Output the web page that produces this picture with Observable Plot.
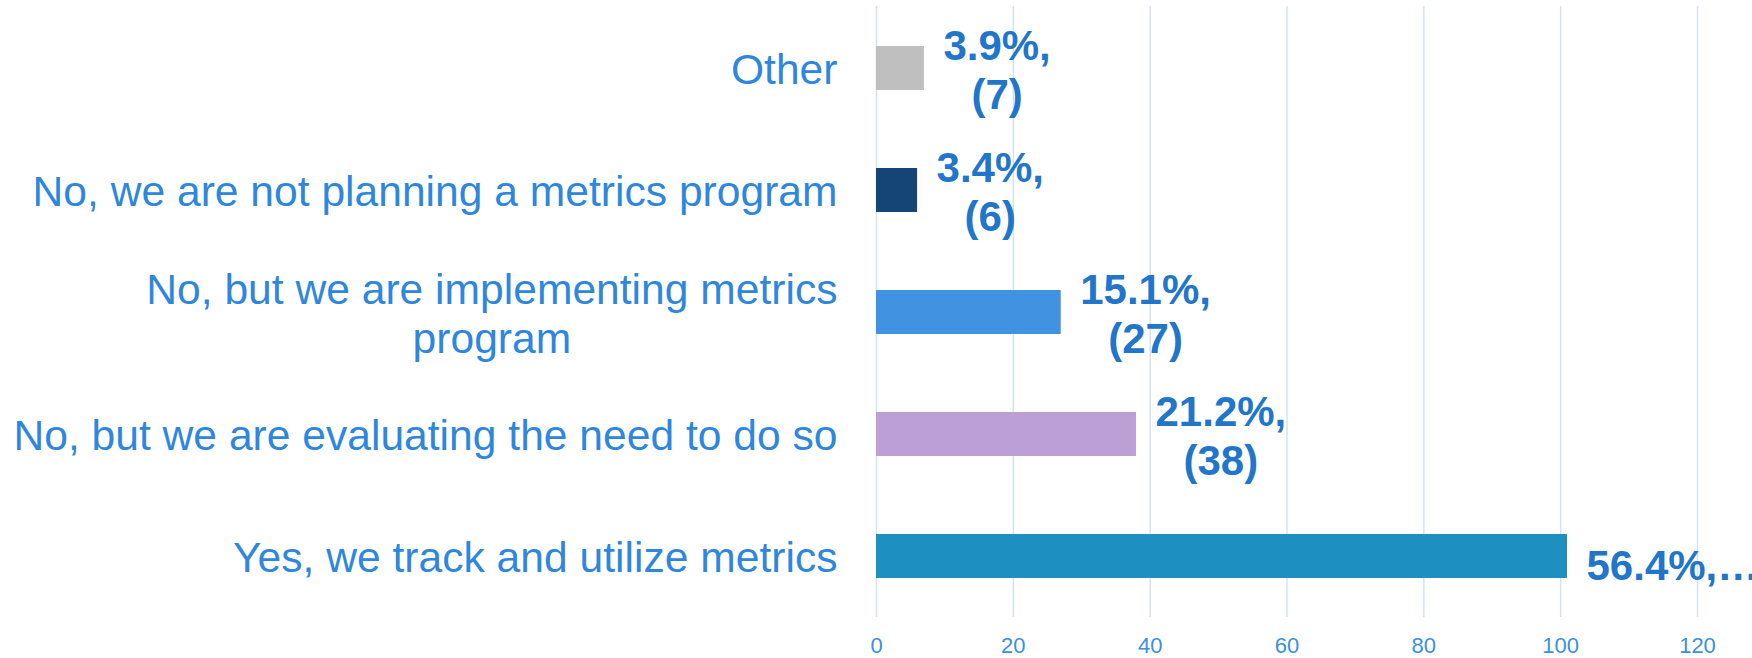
<!DOCTYPE html>
<html><head><meta charset="utf-8">
<script src="https://cdn.jsdelivr.net/npm/d3@7"></script>
<script src="https://cdn.jsdelivr.net/npm/@observablehq/plot@0.6"></script>
<style>body{margin:0;background:#fff;}</style>
</head><body><div id="chart"></div>
<script>
const categories = [
  "Other",
  "No, we are not planning a metrics program",
  "No, but we are implementing metrics program",
  "No, but we are evaluating the need to do so",
  "Yes, we track and utilize metrics"
];
const tickLabels = [
  "Other",
  "No, we are not planning a metrics program",
  "No, but we are implementing metrics\nprogram",
  "No, but we are evaluating the need to do so",
  "Yes, we track and utilize metrics"
];
const counts = [7, 6, 27, 38, 101];
const valueLabels = ["3.9%,\n(7)", "3.4%,\n(6)", "15.1%,\n(27)", "21.2%,\n(38)", "56.4%,…"];
const colors = ["#bfbfbf", "#154577", "#4193e2", "#bca0d5", "#1d90c1"];
const xTicks = [0, 20, 40, 60, 80, 100, 120];

const data = categories.map((c, i) => ({category: c, count: counts[i], label: valueLabels[i], color: colors[i]}));

const labelStyle = {x: "count", y: "category", text: "label", textAnchor: "start", dx: 19,
  fontSize: 42, fontWeight: "bold", fill: "#2276c9", lineHeight: 1.17};

const plot = Plot.plot({
  width: 1752, height: 658,
  marginLeft: 876, marginRight: 55, marginTop: 6, marginBottom: 41,
  style: {fontFamily: "'Liberation Sans', Arial, sans-serif", background: "#fff"},
  x: {domain: [0, 120], ticks: xTicks, label: null},
  y: {domain: categories, paddingInner: 0.64, paddingOuter: 0.32, label: null},
  marks: [
    Plot.gridX(xTicks, {stroke: "#d2e3f5", strokeOpacity: 1, strokeWidth: 1.5}),
    Plot.barX(data, {x: "count", y: "category", fill: "color"}),
    Plot.text(data.slice(0, 4), labelStyle),
    Plot.text(data.slice(4), {...labelStyle, dy: 8}),
    Plot.axisX({ticks: xTicks, tickSize: 0, tickPadding: 20, fontSize: 22, fill: "#3d8fe0", label: null}),
    Plot.axisY({tickSize: 0, tickPadding: 39, fontSize: 42.6, fill: "#2f87dd", lineHeight: 1.17, label: null,
      tickFormat: d => tickLabels[categories.indexOf(d)]})
  ]
});
document.getElementById("chart").append(plot);

// centre each multi-line value label block, keeping its left edge next to the bar end
plot.querySelectorAll('g[aria-label="text"] text').forEach(t => {
  const w = t.getBBox().width;
  t.setAttribute("text-anchor", "middle");
  t.setAttribute("transform", (t.getAttribute("transform") || "") + ` translate(${w / 2},0)`);
});
// centre wrapped category labels under their first line (as in the original)
plot.querySelectorAll('g[aria-label="y-axis tick label"] text').forEach(t => {
  if (t.querySelectorAll("tspan").length > 1) {
    const w = t.getBBox().width;
    t.setAttribute("text-anchor", "middle");
    t.setAttribute("transform", (t.getAttribute("transform") || "") + ` translate(${-w / 2},0)`);
  }
});
</script>
</body></html>
